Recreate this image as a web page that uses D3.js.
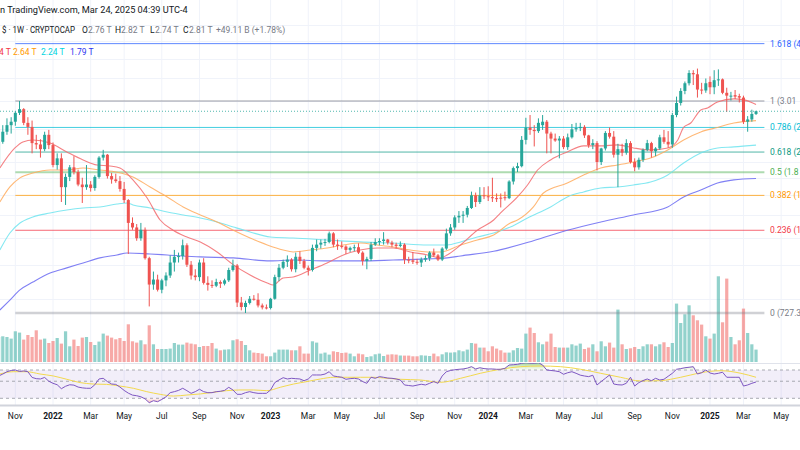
<!DOCTYPE html>
<html><head><meta charset="utf-8">
<script src="https://cdn.jsdelivr.net/npm/d3@7"></script>
<style>
body{margin:0;background:#fff;}
svg{display:block;font-family:Roboto,"Liberation Sans",sans-serif;}
</style></head><body>
<svg id="c" width="800" height="450"></svg>
<script>
// ---------- DATA ----------
const firstWeek = "2021-10-04"; // weekly candles, one per Monday
const opens = [1950,2290,2450,2560,2620,2780,2850,2600,2530,2270,
 2250,2180,2400,2240,1960,2050,1690,1810,1930,1870,
 1720,1690,1720,1680,1810,2060,2100,1820,1780,1760,
 1670,1550,1330,1290,1200,1270,1050,880,910,850,
 905,935,1020,1060,1065,1145,1005,935,925,1020,
 890,878,873,895,885,905,970,1000,780,757,
 778,800,795,765,755,752,800,925,985,1025,
 1040,975,1060,1030,985,970,1125,1150,1165,1170,
 1240,1150,1140,1135,1110,1125,1130,1090,1030,1045,
 1150,1170,1178,1190,1165,1150,1140,1150,1040,1035,
 1025,1020,1040,1050,1090,1070,1040,1120,1240,1290,
 1380,1395,1405,1470,1600,1530,1600,1590,1580,1570,
 1575,1580,1570,1755,1920,1945,2320,2520,2480,2460,
 2560,2620,2420,2340,2310,2340,2210,2360,2490,2510,
 2530,2390,2240,2270,2000,2190,2430,2370,2100,2180,
 2130,2270,2000,1930,2030,2170,2270,2150,2190,2360,
 2290,2250,2740,2970,3220,3390,3630,3600,3250,3230,
 3420,3300,3460,3480,3180,3100,3130,3110,3080,2620,
 2660,2760];
const highs = [2300,2560,2680,2700,2810,3010,2870,2700,2640,2400,
 2330,2450,2480,2280,2120,2120,1850,1960,2080,1900,
 1800,1960,1760,1830,2080,2170,2110,1860,1850,1820,
 1750,1560,1380,1320,1330,1290,1060,960,940,915,
 955,1070,1110,1090,1190,1160,1030,975,1040,1050,
 930,905,915,905,915,985,1040,1010,810,790,
 815,820,830,775,770,805,940,1010,1040,1070,
 1050,1090,1100,1045,1000,1150,1190,1190,1195,1255,
 1250,1190,1175,1145,1135,1150,1160,1100,1060,1170,
 1200,1200,1250,1195,1180,1165,1175,1160,1060,1095,
 1045,1055,1070,1100,1120,1080,1130,1280,1320,1400,
 1440,1440,1490,1640,1630,1690,1690,1700,1800,1620,
 1620,1640,1770,1940,1990,2380,2690,2740,2560,2680,
 2740,2650,2450,2420,2380,2380,2420,2580,2600,2600,
 2560,2400,2330,2300,2200,2460,2520,2460,2260,2260,
 2330,2300,2050,2060,2190,2320,2290,2210,2400,2480,
 2460,2780,3100,3280,3430,3700,3700,3740,3400,3500,
 3550,3700,3720,3500,3290,3200,3240,3160,3120,2720,
 2840,2820];
const lows = [1940,2260,2400,2420,2550,2740,2560,2400,2120,2180,
 2060,2150,2180,1930,1900,1530,1500,1760,1840,1700,
 1520,1660,1640,1650,1790,2020,1790,1730,1740,1640,
 1520,1080,1270,1180,1180,1040,760,850,840,830,
 870,920,960,1020,1040,990,910,905,900,880,
 845,860,865,860,875,895,960,757,740,727.3,
 770,790,755,745,745,745,795,900,975,990,
 960,955,1010,975,935,960,1100,1120,1140,1160,
 1130,1110,1120,1080,1095,1100,1080,1000,975,1030,
 1140,1145,1150,1150,1130,1120,1130,1010,1015,1010,
 1005,990,1025,1030,1060,1030,1030,1110,1220,1270,
 1330,1330,1380,1460,1480,1510,1560,1540,1530,1530,
 1475,1545,1560,1720,1870,1930,2250,2400,2220,2430,
 2480,2120,2120,2290,2050,2180,2170,2340,2450,2460,
 2350,2200,2180,1890,1960,2160,2340,2060,1690,2080,
 2100,1980,1880,1900,2000,2150,2060,2080,2170,2260,
 2200,2200,2700,2920,3150,3340,3350,3080,3150,3180,
 3150,3150,3330,3150,2800,3020,3050,2980,2580,2450,
 2620,2740];
const closes = [2290,2450,2560,2620,2780,2850,2600,2530,2270,2250,
 2180,2400,2240,1960,2050,1690,1810,1930,1870,1720,
 1690,1720,1680,1810,2060,2100,1820,1780,1760,1670,
 1550,1330,1290,1200,1270,1050,880,910,850,905,
 935,1020,1060,1065,1145,1005,935,925,1020,890,
 878,873,895,885,905,970,1000,780,757,778,
 800,795,765,755,752,800,925,985,1025,1040,
 975,1060,1030,985,970,1125,1150,1165,1170,1240,
 1150,1140,1135,1110,1125,1130,1090,1030,1045,1150,
 1170,1178,1190,1165,1150,1140,1150,1040,1035,1025,
 1020,1040,1050,1090,1070,1040,1120,1240,1290,1380,
 1395,1405,1470,1600,1530,1600,1590,1580,1570,1560,
 1565,1570,1755,1920,1945,2320,2520,2480,2460,2600,
 2620,2420,2340,2310,2340,2210,2360,2490,2510,2530,
 2390,2240,2270,2000,2190,2430,2370,2100,2180,2130,
 2270,2000,1930,2030,2170,2270,2150,2190,2360,2290,
 2250,2740,2970,3220,3390,3630,3600,3250,3230,3390,
 3300,3460,3480,3180,3120,3120,3100,3080,2620,2660,
 2760,2810];
const volumes = [250,257,250,234,307,294,224,270,250,317,
 224,234,190,210,240,184,307,157,224,160,
 244,250,200,170,204,284,264,244,227,240,
 210,377,207,194,217,177,367,177,130,130,
 130,134,190,174,174,194,184,177,150,160,
 160,190,134,117,124,127,217,227,210,170,
 117,94,90,84,57,57,94,124,124,124,
 117,117,157,84,84,207,194,84,94,74,
 107,100,90,94,84,57,84,77,50,57,
 77,84,60,74,77,74,65,64,64,57,
 57,67,64,60,84,57,77,97,94,97,
 117,107,124,190,184,144,144,107,157,134,
 117,94,94,117,140,134,284,344,290,197,
 177,204,284,150,144,144,144,177,164,184,
 130,144,177,107,207,157,194,144,524,177,
 130,137,150,130,157,177,177,157,177,197,
 150,190,584,390,477,567,467,417,374,257,
 234,284,857,397,834,250,177,217,534,290,
 177,124];
const rsi = [58.5,62,66.5,69,70,67,68,66.5,56,54,
 53.5,56,50,47,45,40,43,45,44.5,42,
 41,40.5,40.5,45,53.5,54.6,49.5,46,45.5,42,
 38,35,33,32.4,31.4,29.5,26.3,27.9,27.1,29,
 31.4,35.5,36.6,38,40.5,37.7,34.8,36.6,39.3,36.6,
 35.5,35.5,36.6,37,38,41.7,38.5,33.8,33.8,35.5,
 36.6,35.5,34.8,34.8,34.8,38.5,48,51.9,55.6,53.5,
 54.6,54,53.5,50.8,53.5,60.3,60.3,60.3,62,66.5,
 58.5,57.4,56.3,53,54,54.6,53.5,49.5,47,56.3,
 54.6,57.4,56.3,55,54.6,53.5,51.9,44.7,44,43.3,
 44.5,45.7,44.7,47,49.5,47,58.5,66.5,69,70.5,
 71.5,72.2,74,77.3,72.2,74.9,73,72.2,72.2,71.5,
 71.5,73.6,81.3,82,83,85.6,87.1,86,85.6,87.1,
 81.3,70,69,68,66.5,61.6,64.5,66.5,63.4,60,
 58.5,57.4,59.8,44.7,49.5,54.6,60.3,46,45,44.7,
 47,56.3,43.3,48,51,53.5,50.8,54.6,51.9,53,
 58,63.4,71.5,73,74.9,76,77.3,62.1,64.5,70,
 64,62.1,63.4,65.5,56.3,56.3,56.3,56.3,43.3,44.7,
 47,48.9];
// RSI-based moving average (read at sample weeks)
const rsiMaWeeks = [0.3,3.5,6.7,9.9,13.1,16.3,19.5,22.6,25.8,29,32.2,35.4,38.6,41.8,45,48.2,51.3,54.5,57.7,60.9,64.1,67.3,70.5,73.7,76.9,80.1,83.3,86.5,89.6,92.8,96,100.8,105.6,110.4,115.1,119.9,124.7,129.5,134.3,139.1,143.9,148.6,153.4,158.2,160.6,165.4,167.8,172.6,177.4,181];
const rsiMaValues = [62.1,66.5,66.5,62.1,58.5,53,48,46,45.5,43.3,40.5,36.6,33.8,32.1,33.1,34.2,35.9,37.7,38.5,38.5,37.7,41.7,46,49.5,53.5,56.3,56.3,56.3,56.3,54.6,53,51.9,48.4,54.6,63.4,71.5,77.3,78.9,77.3,71.5,63.4,56.3,50.4,50.8,53,60.3,64.5,68.5,63.4,56.3];
// Moving averages on price (billions), read at sample weeks
const maRedWeeks = [0.3,3.9,5.8,8.2,12.3,16.3,20.2,23.5,26.6,29,32.1,35.5,38.6,41.7,45,48.2,52.2,56.1,60.1,64.2,65.6,68,70.4,74.5,78.5,82.4,86.4,90.5,94.3,98.4,102.5,105.6,107.2,110.4,114.4,118.3,119.9,124,126.4,128.8,131.9,135.9,139.8,143.9,147.9,151.7,155.8,159.9,162.3,163.7,165.4,167.8,169.4,171.8,175.7,178.1,181];
const maRedValues = [1922,2198,2288,2319,2272,2140,2028,1961,1948,1922,1774,1572,1356,1266,1210,1171,1095,1004,938,889,877,920,926,970,1017,1073,1109,1124,1124,1095,1073,1052,1073,1147,1266,1356,1421,1583,1715,1896,2028,2140,2228,2228,2243,2198,2169,2198,2319,2521,2597,2835,2874,2992,3053,3032,2940];
const maOrangeWeeks = [0.3,2.7,5.1,8.2,12.3,16.3,20.2,24.2,28.3,32.1,36.2,40.3,44.1,48.2,52.2,56.1,60.1,64.2,68,70.4,74.5,78.5,82.4,86.4,90.5,94.3,98.4,102.5,105.6,110.4,114.4,118.3,122.3,124,127.8,130.2,135.9,139.8,143.9,147.9,151.7,155.8,159.9,163.7,167.8,171.8,175.7,181];
const maOrangeValues = [1530,1692,1798,1858,1896,1896,1922,1896,1868,1810,1692,1583,1480,1403,1338,1266,1202,1147,1109,1095,1109,1124,1147,1162,1147,1132,1109,1095,1095,1147,1186,1227,1329,1356,1480,1625,1738,1834,1922,1961,2001,2055,2169,2319,2447,2521,2597,2640];
const maCyanWeeks = [0.3,2.7,5.1,8.2,12.3,16.3,20.2,24.2,28.3,30.7,32.1,36.2,40.3,44.1,48.2,52.2,56.1,60.1,64.9,70.4,78.5,86.4,94.3,102.5,107.2,110.4,114.4,118.3,122.3,126.4,131.9,135.9,139.8,143.9,147.9,151.7,155.8,159.9,163.7,167.8,171.8,175.7,181];
const maCyanValues = [1109,1243,1329,1384,1421,1450,1470,1480,1510,1520,1500,1470,1431,1403,1375,1338,1294,1252,1210,1202,1186,1171,1162,1147,1147,1171,1210,1243,1294,1375,1480,1583,1637,1681,1692,1715,1750,1834,1987,2125,2198,2213,2240];
const maBlueWeeks = [0.3,2.7,5.1,8.2,12.3,16.3,20.2,24.2,28.3,30.7,36.2,40.3,48.2,56.1,64.9,70.4,78.5,86.4,94.3,102.5,107.2,110.4,118.3,127.8,135.9,143.9,151.7,159.9,163.7,167.8,171.8,175.7,181];
const maBlueValues = [742,793,849,895,951,984,1017,1052,1073,1087,1080,1073,1059,1052,1031,1037,1031,1031,1037,1045,1052,1066,1100,1180,1266,1338,1403,1480,1583,1659,1738,1774,1790];
// Fibonacci retracement (labels as far as they are visible at the right edge)
const fibLow = 727.3, fibHigh = 3010;
const fibLevels = [1.618, 1, 0.786, 0.618, 0.5, 0.382, 0.236, 0];
const fibLabels = ["1.618 (4","1 (3.01","0.786 (2","0.618 (2","0.5 (1.8","0.382 (1","0.236 (1","0 (727.3"];
const fibStartDate = "2021-11-01", fibEndDate = "2025-04-07";
// Time axis
const tickDates = ["2021-11-01","2022-01-03","2022-03-07","2022-05-02","2022-07-04","2022-09-05","2022-11-07","2023-01-02","2023-03-06","2023-05-01","2023-07-03","2023-09-04","2023-11-06","2024-01-01","2024-03-04","2024-05-06","2024-07-01","2024-09-02","2024-11-04","2025-01-06","2025-03-03","2025-05-05"];
const tickLabels = ["Nov","2022","Mar","May","Jul","Sep","Nov","2023","Mar","May","Jul","Sep","Nov","2024","Mar","May","Jul","Sep","Nov","2025","Mar","May"];
const priceGrid = [800,1000,1200,1400,1600,1800,2000,2500,3000,3500,4000,4500,5000];
const lastClose = 2810;
const maLegend = ["4 T","2.64 T","2.24 T","1.79 T"];

// ---------- SCALES ----------
const parse = d3.utcParse("%Y-%m-%d");
const t0 = parse(firstWeek);
const weekDate = i => new Date(t0.getTime() + i * 7 * 864e5);
const x = d3.scaleUtc().domain([parse("2022-01-03"), parse("2025-01-06")]).range([53, 710]);
const y = d3.scaleLog().domain([727.3, 3010]).range([313, 101]);
const yv = d3.scaleLinear().domain([0, 1000]).range([362, 262]);
const yr = d3.scaleLog().domain([30, 70]).range([398.3, 370]);

const UP = "#26a69a", DN = "#ef5350";
const svg = d3.select("#c");
svg.append("rect").attr("width",800).attr("height",450).attr("fill","#fff");
const defs = svg.append("defs");
defs.append("clipPath").attr("id","mainClip").append("rect").attr("x",0).attr("y",0).attr("width",800).attr("height",362);
defs.append("clipPath").attr("id","rsiClip").append("rect").attr("x",0).attr("y",363).attr("width",800).attr("height",42);
const gOB = defs.append("linearGradient").attr("id","ob").attr("gradientUnits","userSpaceOnUse")
  .attr("x1",0).attr("x2",0).attr("y1",yr(90)).attr("y2",yr(70));
gOB.append("stop").attr("offset",0).attr("stop-color","#4caf50").attr("stop-opacity",0.75);
gOB.append("stop").attr("offset",1).attr("stop-color","#c8e6a0").attr("stop-opacity",0.1);
const gOS = defs.append("linearGradient").attr("id","os").attr("gradientUnits","userSpaceOnUse")
  .attr("x1",0).attr("x2",0).attr("y1",yr(30)).attr("y2",yr(24));
gOS.append("stop").attr("offset",0).attr("stop-color","#ef5350").attr("stop-opacity",0.05);
gOS.append("stop").attr("offset",1).attr("stop-color","#ef5350").attr("stop-opacity",0.6);

// ---------- GRID ----------
const grid = svg.append("g");
grid.selectAll(".vg").data(tickDates).join("line")
  .attr("x1",d=>x(parse(d))).attr("x2",d=>x(parse(d))).attr("y1",0).attr("y2",405)
  .attr("stroke","#f0f3fa").attr("stroke-width",1);
grid.selectAll(".hg").data(priceGrid).join("line")
  .attr("x1",0).attr("x2",800).attr("y1",d=>Math.round(y(d))+0.5).attr("y2",d=>Math.round(y(d))+0.5)
  .attr("stroke","#f0f3fa").attr("stroke-width",1);

// ---------- MAIN PANE ----------
const main = svg.append("g").attr("clip-path","url(#mainClip)");
const idx = d3.range(opens.length);

// volume
main.append("g").selectAll("rect").data(idx).join("rect")
  .attr("x",i=>x(weekDate(i))-1.6).attr("width",3.2)
  .attr("y",i=>yv(volumes[i])).attr("height",i=>yv(0)-yv(volumes[i]))
  .attr("fill",i=>closes[i]>=opens[i]?UP:DN).attr("opacity",0.5);

// fib lines
const fibPrice = l => fibLow + l*(fibHigh-fibLow);
const fibColors = ["#2962ff","#787b86","#00bcd4","#089981","#4caf50","#ff9800","#f23645","#787b86"];
const fibWidths = [1,1,1,1,2,1,1,2.5];
const fibOpac = [0.75,0.75,0.75,0.7,0.45,0.75,0.75,0.35];
const fx1 = x(parse(fibStartDate)), fx2 = x(parse(fibEndDate));
main.append("g").selectAll("line").data(fibLevels).join("line")
  .attr("x1",fx1).attr("x2",fx2)
  .attr("y1",l=>y(fibPrice(l))).attr("y2",l=>y(fibPrice(l)))
  .attr("stroke",(l,i)=>fibColors[i]).attr("stroke-width",(l,i)=>fibWidths[i]).attr("stroke-opacity",(l,i)=>fibOpac[i]);

// MAs
const maLine = (w,v,col)=>{
  const pts = w.map((d,i)=>[x(weekDate(d)), y(v[i])]);
  main.append("path").attr("d", d3.line().curve(d3.curveMonotoneX)(pts))
    .attr("fill","none").attr("stroke",col).attr("stroke-width",1.1).attr("stroke-opacity",0.85);
};
maLine(maBlueWeeks, maBlueValues, "#6a6af2");
maLine(maCyanWeeks, maCyanValues, "#6fe4ef");
maLine(maOrangeWeeks, maOrangeValues, "#ffab5e");
maLine(maRedWeeks, maRedValues, "#f26b6e");

// candles
const cg = main.append("g");
cg.selectAll("line").data(idx).join("line")
  .attr("x1",i=>x(weekDate(i))).attr("x2",i=>x(weekDate(i)))
  .attr("y1",i=>y(highs[i])).attr("y2",i=>y(lows[i]))
  .attr("stroke",i=>closes[i]>=opens[i]?UP:DN).attr("stroke-width",1);
cg.selectAll("rect").data(idx).join("rect")
  .attr("x",i=>x(weekDate(i))-1.5).attr("width",3)
  .attr("y",i=>Math.min(y(opens[i]),y(closes[i])))
  .attr("height",i=>Math.max(1,Math.abs(y(opens[i])-y(closes[i]))))
  .attr("fill",i=>closes[i]>=opens[i]?UP:DN);

// last price line
main.append("line").attr("x1",0).attr("x2",800).attr("y1",y(lastClose)).attr("y2",y(lastClose))
  .attr("stroke",UP).attr("stroke-width",1).attr("stroke-dasharray","1,2").attr("opacity",0.8);

// fib labels
svg.append("g").selectAll("text").data(fibLevels).join("text")
  .attr("x",770).attr("y",l=>y(fibPrice(l))+3)
  .attr("fill",(l,i)=>fibColors[i]).attr("font-size","8.5px")
  .text((l,i)=>fibLabels[i]);

// ---------- RSI PANE ----------
svg.append("line").attr("x1",0).attr("x2",800).attr("y1",363.5).attr("y2",363.5).attr("stroke","#e0e3eb");
const rg = svg.append("g").attr("clip-path","url(#rsiClip)");
rg.append("rect").attr("x",0).attr("width",800).attr("y",yr(70)).attr("height",yr(30)-yr(70))
  .attr("fill","#7e57c2").attr("opacity",0.1);
[70,50,30].forEach(v=>{
  rg.append("line").attr("x1",0).attr("x2",800).attr("y1",yr(v)).attr("y2",yr(v))
    .attr("stroke","#9598a1").attr("stroke-width",1).attr("stroke-dasharray","3,3").attr("opacity",0.8);
});
rg.append("path").datum(idx).attr("fill","url(#ob)")
  .attr("d",d3.area().x(i=>x(weekDate(i))).y0(yr(70)).y1(i=>yr(Math.max(70,rsi[i]))));
rg.append("path").datum(idx).attr("fill","url(#os)")
  .attr("d",d3.area().x(i=>x(weekDate(i))).y0(yr(30)).y1(i=>yr(Math.min(30,rsi[i]))));
rg.append("path").attr("fill","none").attr("stroke","#f2d94e").attr("stroke-width",1)
  .attr("d",d3.line().curve(d3.curveMonotoneX)(rsiMaWeeks.map((w,i)=>[x(weekDate(w)),yr(rsiMaValues[i])])));
rg.append("path").datum(idx).attr("fill","none").attr("stroke","#7e57c2").attr("stroke-width",1)
  .attr("d",d3.line().x(i=>x(weekDate(i))).y(i=>yr(rsi[i])));

// ---------- TIME AXIS ----------
svg.append("line").attr("x1",0).attr("x2",800).attr("y1",405.5).attr("y2",405.5).attr("stroke","#d1d4dc").attr("stroke-width",2);
svg.append("g").selectAll("text").data(tickDates).join("text")
  .attr("x",d=>x(parse(d))).attr("y",419).attr("text-anchor","middle")
  .attr("font-size","8.5px").attr("fill","#131722")
  .attr("font-weight",(d,i)=>/^\d{4}$/.test(tickLabels[i])?"bold":"normal")
  .text((d,i)=>tickLabels[i]);

// ---------- HEADER ----------
svg.append("text").attr("x",0).attr("y",13).attr("font-size","9.2px").attr("fill","#131722")
  .text("n TradingView.com, Mar 24, 2025 04:39 UTC-4");
const h2 = svg.append("text").attr("y",33).attr("font-size","8.5px");
const parts = [[2,"$ · 1W · CRYPTOCAP","#131722",73],[82,"O","#131722",0],[88,"2.76 T","#787b86",0],
  [115,"H","#131722",0],[121,"2.82 T","#787b86",0],[150,"L","#131722",0],[155,"2.74 T","#787b86",0],
  [183,"C","#131722",0],[189,"2.81 T","#787b86",0],[216,"+49.11 B (+1.78%)","#787b86",0]];
parts.forEach(p=>{
  const t = h2.append("tspan").attr("x",p[0]).attr("fill",p[2]).text(p[1]);
  if (p[3]) t.attr("textLength",p[3]).attr("lengthAdjust","spacingAndGlyphs");
});
const legCols = ["#f23645","#ff9800","#00d4e0","#2d35f0"];
const legX = [-1,13,41,70];
svg.append("g").selectAll("text").data(maLegend).join("text")
  .attr("x",(d,i)=>legX[i]).attr("y",55).attr("font-size","8.5px").attr("fill",(d,i)=>legCols[i]).text(d=>d);
</script>
</body></html>
